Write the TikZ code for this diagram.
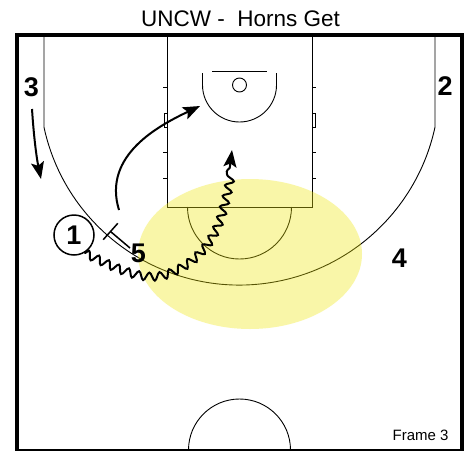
\documentclass[tikz,border=0pt]{standalone}
\usepackage{fontspec}
\setmainfont{Liberation Sans}
\usetikzlibrary{arrows.meta,decorations.pathmorphing}
\definecolor{hl}{RGB}{240,232,15}
\begin{document}
\begin{tikzpicture}[x=1pt,y=1pt,yscale=-1,
  court/.style={line width=0.9pt},
  move/.style={line width=2pt,-{Stealth[length=17pt,width=13pt,inset=3.5pt]}},
  player/.style={font=\fontsize{27}{27}\selectfont\bfseries, inner sep=0pt},
  wavy/.style={decorate, decoration={snake, segment length=11pt, amplitude=4pt, post length=13pt}}
]
\useasboundingbox (0,0) rectangle (473,450);
\fill[white] (0,0) rectangle (473,450);
% lane
\draw[court] (167,35) -- (167,207) -- (312,207) -- (312,35);
\foreach \y in {87,152,178} {
  \draw[court] (163,\y) -- (167,\y);
  \draw[court] (312,\y) -- (316,\y);
}
\draw[court] (164,113) rectangle (167,127);
\draw[court] (312,113) rectangle (315,127);
% three point line
\draw[court] (44,35) -- (44,127.3) arc[start angle=167.8, end angle=12.2, radius=200] -- (435,35);
% restricted area, backboard, basket
\draw[court] (202.5,73) -- (202.5,85) arc[start angle=180, end angle=0, radius=37] -- (276.5,73);
\draw[court] (212,71) -- (267,71);
\draw[court] (239.5,85) circle[radius=7];
% free throw circle and centre circle
\draw[court] (291.5,207) arc[start angle=0, end angle=180, radius=52];
\draw[court] (188.5,450) arc[start angle=180, end angle=360, radius=51];
% highlight
\fill[hl, fill opacity=0.36] (250,254) ellipse[x radius=112, y radius=75];
% border
\draw[line width=4pt] (17,35) rectangle (462,450.5);
% title and frame
\node[font=\fontsize{22.5}{27}\selectfont, anchor=base] (title) at (240.5,26) {UNCW -\ \ Horns Get};
\node[font=\fontsize{15}{18}\selectfont, anchor=base east] (frame) at (452,440) {Frame 3};
% players
\node[player] (p3) at (31.5,87) {3};
\node[player] (p2) at (445,86) {2};
\node[player] (p4) at (399.5,258) {4};
\node[player] (p5) at (138.5,253) {5};
\node[player, draw, circle, line width=1.5pt, minimum size=40pt] (p1) at (74,235) {1};
% movements
\coordinate (c3s) at (32,109);
\coordinate (c3e) at (41,179);
\draw[move] (c3s) .. controls (34,140) and (37,160) .. (c3e);
\coordinate (c1s) at (119,210);
\coordinate (c1e) at (200,106);
\draw[move] (c1s) .. controls (102,155) and (160,125) .. (c1e);
% screen
\coordinate (s5) at (130,248);
\coordinate (sb) at (110.5,231.5);
\coordinate (sb1) at (103.2,239.7);
\coordinate (sb2) at (117.8,223.3);
\draw[line width=1.5pt] (s5) -- (sb);
\draw[line width=1.5pt] (sb1) -- (sb2);
% dribble
\coordinate (dr) at (232,150);
\draw[move, wavy] (p1.-60) .. controls (110,265) and (140,282) .. (165,273)
  .. controls (195,262) and (212,240) .. (220,212)
  .. controls (226,190) and (230,170) .. (dr);
\end{tikzpicture}
\end{document}
